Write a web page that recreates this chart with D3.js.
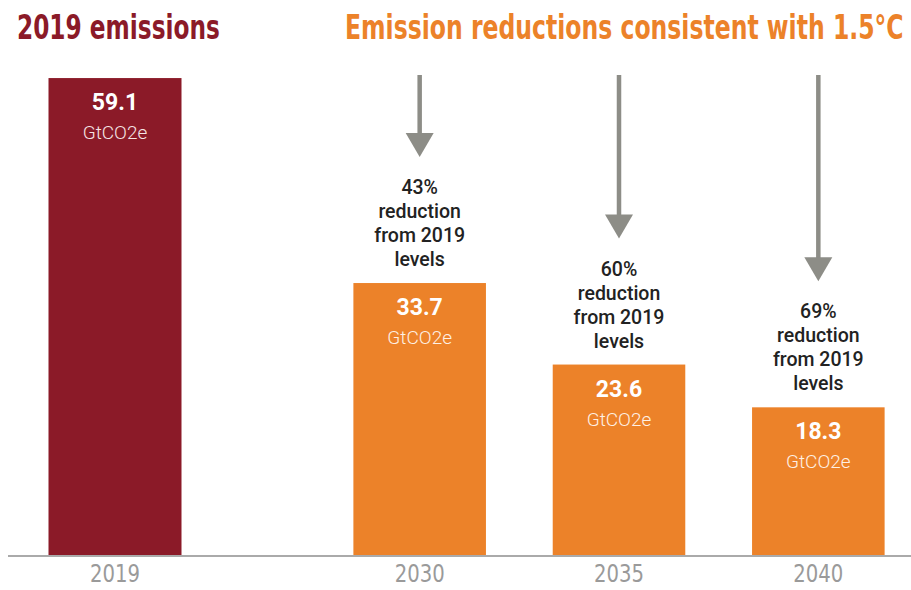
<!DOCTYPE html>
<html>
<head>
<meta charset="utf-8">
<script src="https://cdn.jsdelivr.net/npm/d3@7"></script>
<style>
  body { margin: 0; background: #fff; }
  svg { display: block; }
  .title { font-family: "Liberation Sans Narrow", "DejaVu Sans Condensed", sans-serif; font-weight: bold; font-size: 33px; }
  .note { font-family: Roboto, "Liberation Sans", sans-serif; font-weight: 500; font-size: 19.5px; fill: #222; }
  .val { font-family: Roboto, "Liberation Sans", sans-serif; font-weight: bold; font-size: 23px; fill: #fff; }
  .unit { font-family: Roboto, "Liberation Sans", sans-serif; font-weight: 300; font-size: 19px; }
  .axis text { font-family: "Liberation Sans Narrow", "DejaVu Sans Condensed", sans-serif; font-size: 25px; fill: #9a9a9a; }
</style>
</head>
<body>
<svg id="chart" width="911" height="590"></svg>
<script>
const w = 911;
const h = 590;
const baseY = 555;

// data
const pastYears = ["2019"];
const pastValues = [59.1];
const targetYears = ["2030", "2035", "2040"];
const targetValues = [33.7, 23.6, 18.3];
const reductions = ["43%", "60%", "69%"];
const unitLabel = "GtCO2e";
const leftTitle = "2019 emissions";
const rightTitle = "Emission reductions consistent with 1.5°C";

const red = "#8b1a28";
const orange = "#ec8229";
const arrowGrey = "#8d8d87";

const svg = d3.select("#chart");

const y = d3.scaleLinear()
	.domain([0, 60])
	.range([baseY, baseY - 60 * 8.07]);

// two panels, each with its own band scale
const xLeft = d3.scaleBand()
	.domain(pastYears)
	.range([15, 215])
	.paddingInner(0.335)
	.paddingOuter(0.1675);

const xRight = d3.scaleBand()
	.domain(targetYears)
	.range([320, 918])
	.paddingInner(0.335)
	.paddingOuter(0.1675);

const past = pastYears.map((d, i) => ({year: d, value: pastValues[i]}));
const target = targetYears.map((d, i) => ({year: d, value: targetValues[i], cut: reductions[i]}));

// titles: the condensed face is squeezed horizontally to the original width
function title(str, x, width, color) {
	const t = svg.append("text")
		.attr("class", "title")
		.attr("fill", color)
		.text(str);
	const natural = t.node().getComputedTextLength();
	t.attr("transform", `translate(${x},39) scale(${width / natural},1)`);
}
title(leftTitle, 17, 203, red);
title(rightTitle, 345, 559, orange);

function drawBars(data, x, color, unitColor) {
	const g = svg.append("g");
	g.selectAll("rect")
		.data(data)
		.enter()
		.append("rect")
		.attr("x", d => x(d.year))
		.attr("y", d => y(d.value))
		.attr("width", x.bandwidth())
		.attr("height", d => baseY - y(d.value))
		.attr("fill", color);

	g.selectAll("text.val")
		.data(data)
		.enter()
		.append("text")
		.attr("class", "val")
		.attr("text-anchor", "middle")
		.attr("x", d => x(d.year) + x.bandwidth() / 2)
		.attr("y", d => y(d.value) + 32)
		.text(d => d.value.toFixed(1));

	g.selectAll("text.unit")
		.data(data)
		.enter()
		.append("text")
		.attr("class", "unit")
		.attr("text-anchor", "middle")
		.attr("fill", unitColor)
		.attr("x", d => x(d.year) + x.bandwidth() / 2)
		.attr("y", d => y(d.value) + 61)
		.text(unitLabel);
}

drawBars(past, xLeft, red, "#f5e4e4");
drawBars(target, xRight, orange, "#fef0e4");

// arrows and reduction notes
const notes = svg.append("g");
target.forEach(d => {
	const cx = xRight(d.year) + xRight.bandwidth() / 2;
	const tip = y(d.value) - 126;
	notes.append("line")
		.attr("x1", cx).attr("x2", cx)
		.attr("y1", 75).attr("y2", tip - 20)
		.attr("stroke", arrowGrey)
		.attr("stroke-width", 4.5);
	notes.append("path")
		.attr("d", `M${cx - 14},${tip - 24}L${cx + 14},${tip - 24}L${cx},${tip}Z`)
		.attr("fill", arrowGrey);

	const lines = [d.cut, "reduction", "from 2019", "levels"];
	const t = notes.append("text")
		.attr("class", "note")
		.attr("text-anchor", "middle");
	lines.forEach((s, i) => {
		t.append("tspan")
			.attr("x", cx)
			.attr("y", y(d.value) - 17 - (lines.length - 1 - i) * 24)
			.text(s);
	});
});

// baseline
svg.append("line")
	.attr("x1", 8).attr("x2", w)
	.attr("y1", baseY + 1).attr("y2", baseY + 1)
	.attr("stroke", "#aaaaaa")
	.attr("stroke-width", 2);

// year axes
[xLeft, xRight].forEach(x => {
	const ax = svg.append("g")
		.attr("class", "axis")
		.attr("transform", `translate(0,${baseY})`)
		.call(d3.axisBottom(x).tickSize(0).tickPadding(9));
	ax.select(".domain").remove();
	ax.selectAll("text")
		.attr("textLength", 50)
		.attr("lengthAdjust", "spacingAndGlyphs");
});
</script>
</body>
</html>
